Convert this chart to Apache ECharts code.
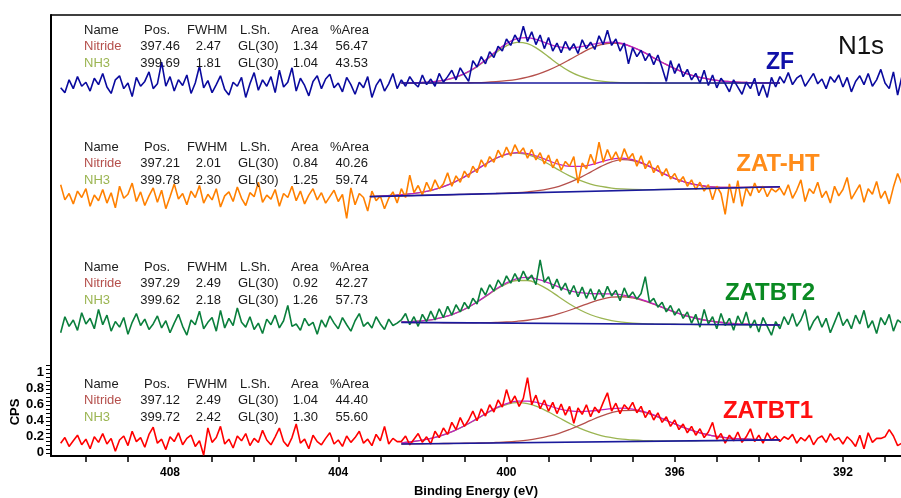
<!DOCTYPE html>
<html><head><meta charset="utf-8">
<script src="https://cdn.jsdelivr.net/npm/echarts@6/dist/echarts.min.js"></script>
<style>html,body{margin:0;padding:0;background:#fff}#c{width:901px;height:498px}</style>
</head><body><div id="c"></div>
<script>
// ---- measured spectra: binding energy grid start/step (eV) ----
const E_START = 410.6, E_STEP = 0.1;

const ZF = [4.56,4.50,4.66,4.55,4.70,4.58,4.63,4.52,4.68,4.60,
4.74,4.57,4.49,4.66,4.71,4.55,4.62,4.45,4.69,4.58,
4.64,4.76,4.55,4.61,4.88,4.58,4.70,4.52,4.66,4.59,
4.72,4.49,4.62,4.83,4.56,4.65,4.50,4.60,4.71,4.54,
4.47,4.63,4.58,4.69,4.44,4.61,4.75,4.53,4.66,4.58,
4.70,4.50,4.78,4.57,4.63,4.81,4.52,4.68,4.59,4.46,
4.64,4.71,4.55,4.67,4.73,4.56,4.62,4.51,4.69,4.60,
4.48,4.63,4.56,4.70,4.44,4.59,4.67,4.52,4.61,4.74,
4.55,
4.66,4.58,4.70,4.62,4.57,4.72,4.60,4.67,4.58,4.74,
4.63,4.70,4.78,4.66,4.81,4.72,4.64,4.90,4.82,4.95,
4.86,5.01,4.94,5.08,5.02,5.17,5.09,5.22,5.13,5.33,
5.14,5.26,5.10,5.22,5.05,5.19,5.02,5.12,5.00,5.14,
5.03,5.11,4.99,5.16,5.05,5.13,5.04,5.21,5.10,5.28,
5.09,5.17,5.02,5.12,4.86,5.06,4.95,5.03,4.90,4.99,
4.85,4.97,4.81,4.64,4.90,4.74,4.86,4.70,4.79,4.66,
4.74,4.62,4.78,4.59,4.72,4.56,4.68,4.61,4.51,4.66,
4.57,4.48,4.63,4.55,4.68,4.46,4.60,4.44,4.69,4.57,
4.70,4.62,4.75,4.60,4.68,4.72,4.58,4.66,4.74,4.61,
4.67,4.55,4.70,4.63,4.72,4.57,4.69,4.51,4.64,4.71,
4.60,4.74,4.58,4.66,4.79,4.62,4.55,4.76,4.47,4.70];

const ZAT_HT = [3.35,3.16,3.24,3.11,3.27,3.19,3.30,3.08,3.22,3.15,
3.29,3.12,3.25,3.06,3.33,3.18,3.23,3.37,3.14,3.26,
3.09,3.21,3.31,3.13,3.28,3.05,3.20,3.36,3.17,3.24,
3.10,3.27,3.19,3.34,3.12,3.23,3.16,3.30,3.07,3.21,
3.26,3.14,3.32,3.18,3.09,3.25,3.20,3.38,3.13,3.22,
3.17,3.29,3.08,3.24,3.19,3.33,3.15,3.27,3.11,3.22,
3.30,3.16,3.25,3.12,3.20,3.28,3.14,3.23,2.93,3.31,
3.10,3.24,3.19,3.02,3.27,3.15,3.21,3.05,3.18,3.26,
3.12,
3.30,3.19,3.47,3.25,3.34,3.22,3.38,3.27,3.41,3.30,
3.36,3.50,3.33,3.46,3.38,3.52,3.44,3.58,3.50,3.66,
3.57,3.70,3.63,3.78,3.69,3.82,3.71,3.85,3.74,3.81,
3.68,3.79,3.66,3.75,3.61,3.72,3.56,3.67,3.53,3.64,
3.58,3.70,3.37,3.62,3.55,3.73,3.60,3.88,3.63,3.79,
3.66,3.76,3.64,3.80,3.67,3.74,3.58,3.71,3.55,3.65,
3.50,3.59,3.46,3.55,3.42,3.49,3.38,3.45,3.33,3.41,
3.29,3.38,3.27,3.35,3.16,3.33,3.24,2.98,3.36,3.12,
3.40,3.08,3.31,3.21,3.37,3.25,3.33,3.20,3.30,3.26,
3.31,3.22,3.35,3.18,3.28,3.41,3.14,3.30,3.24,3.38,
3.19,3.27,3.12,3.33,3.21,3.29,3.44,3.17,3.26,3.35,
3.13,3.30,3.23,3.39,3.18,3.27,3.11,3.32,3.49,3.36];

const ZATBT2 = [1.50,1.70,1.58,1.66,1.53,1.75,1.61,1.68,1.55,1.79,
1.60,1.72,1.52,1.64,1.57,1.69,1.48,1.63,1.74,1.59,
1.67,1.54,1.61,1.71,1.56,1.65,1.50,1.62,1.73,1.58,
1.47,1.66,1.60,1.77,1.55,1.63,1.69,1.52,1.78,1.56,
1.68,1.59,1.81,1.63,1.57,1.70,1.54,1.62,1.49,1.67,
1.60,1.72,1.56,1.65,1.84,1.58,1.61,1.53,1.68,1.59,
1.63,1.48,1.66,1.57,1.71,1.62,1.55,1.69,1.60,1.52,
1.65,1.74,1.58,1.63,1.56,1.70,1.61,1.54,1.67,1.59,
1.62,
1.66,1.74,1.60,1.70,1.58,1.73,1.64,1.77,1.66,1.80,
1.69,1.83,1.72,1.85,1.76,1.88,1.80,1.93,1.86,2.06,
1.97,2.10,2.02,2.16,2.08,2.21,2.12,2.24,2.14,2.27,
2.16,2.22,2.10,2.41,2.13,2.20,2.05,2.17,2.03,2.12,
1.98,2.09,1.95,2.07,1.93,2.05,1.91,2.04,1.94,2.08,
1.96,2.03,1.90,2.06,1.94,2.01,1.92,1.99,2.20,1.88,
1.93,1.82,1.88,1.76,1.84,1.72,1.80,1.68,1.76,1.62,
1.73,1.57,1.79,1.61,1.70,1.55,1.74,1.59,1.68,1.53,
1.71,1.60,1.76,1.56,1.66,1.51,1.69,1.58,1.47,1.64,
1.55,1.70,1.60,1.74,1.58,1.66,1.79,1.53,1.64,1.71,
1.57,1.68,1.50,1.63,1.76,1.59,1.67,1.55,1.72,1.61,
1.78,1.56,1.65,1.49,1.69,1.60,1.73,1.52,1.66,1.62];

const ZATBT1 = [0.12,0.19,0.08,0.15,0.22,0.10,0.17,0.05,0.20,0.13,
0.24,0.11,0.18,0.02,0.16,0.21,0.09,0.27,0.14,0.19,
0.07,0.23,0.32,0.12,0.17,0.04,0.20,0.14,0.25,0.10,
0.18,0.22,0.08,0.15,-0.03,0.31,0.13,0.19,0.33,0.11,
0.17,0.06,0.21,0.15,0.24,0.09,0.18,0.13,0.28,0.16,
0.10,0.20,0.31,0.14,0.08,0.19,0.36,0.12,0.17,0.05,
0.22,0.14,0.10,0.18,0.25,0.11,0.16,0.08,0.21,0.13,
0.19,0.27,0.12,0.17,0.09,0.23,0.15,0.33,0.11,0.18,
0.14,
0.14,0.21,0.10,0.17,0.24,0.13,0.20,0.11,0.27,0.19,
0.31,0.23,0.38,0.29,0.44,0.33,0.41,0.52,0.40,0.55,
0.46,0.60,0.51,0.66,0.57,0.79,0.62,0.71,0.58,0.68,
0.94,0.60,0.72,0.55,0.66,0.52,0.63,0.49,0.61,0.47,
0.58,0.37,0.56,0.48,0.60,0.45,0.57,0.50,0.63,0.75,
0.52,0.62,0.49,0.60,0.54,0.63,0.50,0.58,0.44,0.53,
0.41,0.50,0.38,0.45,0.33,0.41,0.29,0.36,0.25,0.33,
0.22,0.30,0.19,0.26,0.38,0.17,0.24,0.12,0.22,0.15,
0.26,0.13,0.20,0.30,0.14,0.22,0.12,0.25,0.16,0.21,
0.14,0.20,0.17,0.23,0.12,0.19,0.15,0.22,0.10,0.18,
0.21,0.13,0.24,0.16,0.19,0.11,0.20,0.15,0.08,0.22,
0.05,0.25,0.13,0.18,0.18,0.20,0.29,0.21,0.09,0.12];

// ---- fitted curves (energies in eV) ----
const FIT_E = [402.5,402.25,402.0,401.75,401.5,401.25,401.0,400.75,400.5,400.25,400.0,399.75,399.5,399.25,399.0,398.75,398.5,398.25,398.0,397.75,397.5,397.25,397.0,396.75,396.5,396.25,396.0,395.75,395.5,395.25,395.0,394.75,394.5,394.25,394.0,393.75,393.5];
const FIT_E_HT = [403.25,403.0,402.75,402.5,402.25,402.0,401.75,401.5,401.25,401.0,400.75,400.5,400.25,400.0,399.75,399.5,399.25,399.0,398.75,398.5,398.25,398.0,397.75,397.5,397.25,397.0,396.75,396.5,396.25,396.0,395.75,395.5,395.25,395.0,394.75,394.5,394.25,394.0,393.75,393.5];

const ZF_NH3 = [4.621,4.623,4.627,4.637,4.653,4.685,4.735,4.806,4.899,5.000,5.084,5.128,5.113,5.044,4.947,4.849,4.765,4.705,4.666,4.643,4.631,4.625,4.622,4.621,4.62,4.62,4.62,4.62,4.62,4.62,4.62,4.62,4.62,4.62,4.62,4.62,4.62];
const ZF_NIT = [4.620,4.620,4.620,4.621,4.621,4.622,4.623,4.625,4.629,4.637,4.649,4.667,4.694,4.732,4.781,4.842,4.912,4.986,5.052,5.099,5.120,5.109,5.067,5.008,4.935,4.864,4.799,4.745,4.704,4.674,4.653,4.640,4.631,4.626,4.623,4.622,4.621];
const ZF_ENV = [4.621,4.623,4.628,4.638,4.654,4.687,4.738,4.811,4.908,5.017,5.113,5.175,5.187,5.156,5.108,5.071,5.057,5.071,5.098,5.122,5.131,5.114,5.069,5.009,4.935,4.864,4.799,4.745,4.704,4.674,4.653,4.640,4.631,4.626,4.623,4.622,4.621];
const ZF_BG = [4.62, 4.62];

const HT_NH3 = [3.203,3.207,3.215,3.224,3.237,3.256,3.285,3.326,3.379,3.448,3.525,3.606,3.679,3.728,3.745,3.726,3.677,3.608,3.531,3.461,3.404,3.358,3.328,3.308,3.297,3.291,3.289,3.289,3.291,3.294,3.296,3.299,3.302,3.305,3.308,3.311,3.315,3.318,3.321,3.324];
const HT_NIT = [3.201,3.204,3.208,3.211,3.214,3.217,3.220,3.223,3.226,3.230,3.233,3.237,3.240,3.245,3.251,3.261,3.275,3.297,3.330,3.378,3.438,3.507,3.578,3.635,3.662,3.652,3.611,3.550,3.483,3.426,3.382,3.350,3.330,3.320,3.316,3.315,3.317,3.319,3.321,3.324];
const HT_ENV = [3.203,3.207,3.215,3.224,3.237,3.256,3.285,3.326,3.379,3.448,3.525,3.607,3.680,3.731,3.751,3.738,3.700,3.650,3.603,3.578,3.578,3.598,3.635,3.669,3.682,3.663,3.617,3.553,3.485,3.427,3.382,3.350,3.330,3.320,3.316,3.315,3.317,3.319,3.321,3.324];
const HT_BG = [3.201, 3.324];

const BT2_NH3 = [1.635,1.640,1.649,1.665,1.694,1.735,1.792,1.866,1.951,2.038,2.109,2.153,2.153,2.108,2.036,1.947,1.860,1.784,1.725,1.682,1.652,1.633,1.621,1.614,1.610,1.608,1.606,1.604,1.603,1.602,1.601,1.600,1.600,1.599,1.598,1.597,1.596];
const BT2_NIT = [1.629,1.628,1.627,1.626,1.625,1.625,1.625,1.625,1.626,1.629,1.634,1.643,1.656,1.676,1.703,1.739,1.781,1.829,1.876,1.917,1.944,1.950,1.935,1.902,1.857,1.806,1.758,1.715,1.681,1.654,1.634,1.620,1.612,1.606,1.602,1.599,1.597];
const BT2_ENV = [1.635,1.640,1.649,1.665,1.694,1.736,1.793,1.868,1.955,2.046,2.123,2.177,2.191,2.167,2.123,2.071,2.027,2.000,1.989,1.987,1.985,1.973,1.947,1.908,1.860,1.808,1.759,1.715,1.681,1.654,1.634,1.620,1.612,1.606,1.602,1.599,1.597];
const BT2_BG = [1.629, 1.596];

const BT1_NH3 = [0.125,0.138,0.157,0.185,0.224,0.274,0.337,0.409,0.485,0.556,0.603,0.626,0.614,0.573,0.510,0.438,0.367,0.304,0.254,0.215,0.189,0.170,0.160,0.153,0.150,0.149,0.149,0.150,0.150,0.152,0.153,0.155,0.156,0.158,0.159,0.161,0.162];
const BT1_NIT = [0.110,0.111,0.113,0.114,0.116,0.117,0.120,0.122,0.124,0.129,0.135,0.145,0.159,0.180,0.208,0.244,0.291,0.345,0.404,0.458,0.502,0.527,0.529,0.507,0.468,0.415,0.361,0.309,0.264,0.231,0.205,0.187,0.176,0.169,0.165,0.164,0.164];
const BT1_ENV = [0.125,0.138,0.157,0.185,0.224,0.274,0.338,0.411,0.488,0.562,0.614,0.645,0.646,0.624,0.588,0.550,0.525,0.515,0.522,0.536,0.552,0.557,0.547,0.517,0.473,0.418,0.362,0.310,0.264,0.231,0.205,0.187,0.176,0.169,0.165,0.164,0.164];
const BT1_BG = [0.110, 0.162];

const BG_E = [402.5, 393.5];
const BG_E_HT = [403.25, 393.5];

// ---- axis ticks / labels ----
const X_TICKS = [391,392,393,394,395,396,397,398,399,400,401,402,403,404,405,406,407,408,409,410];
const X_LABELS = [392,396,400,404,408];
const Y_TICKS = [0,0.05,0.1,0.15,0.2,0.25,0.3,0.35,0.4,0.45,0.5,0.55,0.6,0.65,0.7,0.75,0.8,0.85,0.9,0.95,1,1.05,1.1];
const Y_LABELS = [0,0.2,0.4,0.6,0.8,1];

// ---- peak table text ----
const TABLE_HEAD = ['Name','Pos.','FWHM','L.Sh.','Area','%Area'];
const COMP_NAMES = ['Nitride','NH3'];
const TABLE_ZF = [['397.46','2.47','GL(30)','1.34','56.47'],['399.69','1.81','GL(30)','1.04','43.53']];
const TABLE_HT = [['397.21','2.01','GL(30)','0.84','40.26'],['399.78','2.30','GL(30)','1.25','59.74']];
const TABLE_BT2 = [['397.29','2.49','GL(30)','0.92','42.27'],['399.62','2.18','GL(30)','1.26','57.73']];
const TABLE_BT1 = [['397.12','2.49','GL(30)','1.04','44.40'],['399.72','2.42','GL(30)','1.30','55.60']];
const SAMPLE_NAMES = ['ZF','ZAT-HT','ZATBT2','ZATBT1'];

// ---- build ----
const ENERGY = ZF.map((_, i) => +(E_START - i * E_STEP).toFixed(2));
const pair = (xs, ys) => xs.map((x, i) => [x, ys[i]]);
const FONT = '"Liberation Sans", Arial, sans-serif';
const C_NIT = '#b5504c', C_NH3 = '#9bb552', C_ENV = '#c020c0', C_BG = '#1a1a9c';

function ln(name, xs, ys, color, width, z, smooth) {
  return {name, type: 'line', data: pair(xs, ys), symbol: 'none', showSymbol: false,
    lineStyle: {color, width}, itemStyle: {color}, z, silent: true, smooth: smooth || false,
    animation: false};
}
const samples = [
  {raw: ZF, col: '#0a0a9e', fe: FIT_E, nh3: ZF_NH3, nit: ZF_NIT, env: ZF_ENV, bge: BG_E, bg: ZF_BG},
  {raw: ZAT_HT, col: '#ff8000', fe: FIT_E_HT, nh3: HT_NH3, nit: HT_NIT, env: HT_ENV, bge: BG_E_HT, bg: HT_BG},
  {raw: ZATBT2, col: '#0a7f3c', fe: FIT_E, nh3: BT2_NH3, nit: BT2_NIT, env: BT2_ENV, bge: BG_E, bg: BT2_BG},
  {raw: ZATBT1, col: '#ff0000', fe: FIT_E, nh3: BT1_NH3, nit: BT1_NIT, env: BT1_ENV, bge: BG_E, bg: BT1_BG}
];
const series = [];
samples.forEach((s, k) => {
  series.push(ln(SAMPLE_NAMES[k] + ' NH3', s.fe, s.nh3, C_NH3, 1.3, 2, 0.4));
  series.push(ln(SAMPLE_NAMES[k] + ' Nitride', s.fe, s.nit, C_NIT, 1.3, 2, 0.4));
  series.push(ln(SAMPLE_NAMES[k] + ' envelope', s.fe, s.env, C_ENV, 1.3, 2, 0.4));
  series.push(ln(SAMPLE_NAMES[k], ENERGY, s.raw, s.col, 1.6, 3));
  series.push(ln(SAMPLE_NAMES[k] + ' background', s.bge, s.bg, C_BG, 1.6, 4));
});

// table graphics
const graphics = [];
const tables = [TABLE_ZF, TABLE_HT, TABLE_BT2, TABLE_BT1];
const tableY = [30, 147, 267, 384];
const headX = [84, 144, 187, 240, 291, 330];
function txt(text, x, y, font, fill, align) {
  return {type: 'text', x, y, silent: true, z: 10,
    style: {text, font, fill, align: align || 'left', verticalAlign: 'middle'}};
}
const TF = '13px ' + FONT;
tables.forEach((t, k) => {
  const y0 = tableY[k];
  TABLE_HEAD.forEach((h, j) => graphics.push(txt(h, headX[j], y0, TF, '#1a1a1a')));
  t.forEach((row, r) => {
    const y = y0 + 16.5 * (r + 1);
    graphics.push(txt(COMP_NAMES[r], 84, y, TF, r === 0 ? C_NIT : C_NH3));
    graphics.push(txt(row[0], 180, y, TF, '#1a1a1a', 'right'));
    graphics.push(txt(row[1], 221, y, TF, '#1a1a1a', 'right'));
    graphics.push(txt(row[2], 238, y, TF, '#1a1a1a', 'left'));
    graphics.push(txt(row[3], 318, y, TF, '#1a1a1a', 'right'));
    graphics.push(txt(row[4], 368, y, TF, '#1a1a1a', 'right'));
  });
});
graphics.push(txt('N1s', 861, 47, '26px ' + FONT, '#111', 'center'));
graphics.push(txt(SAMPLE_NAMES[0], 780, 63, 'bold 23px ' + FONT, '#1010a8', 'center'));
graphics.push(txt(SAMPLE_NAMES[1], 778, 164, 'bold 24px ' + FONT, '#ff8c1a', 'center'));
graphics.push(txt(SAMPLE_NAMES[2], 770, 293, 'bold 24px ' + FONT, '#0a8a22', 'center'));
graphics.push(txt(SAMPLE_NAMES[3], 768, 411, 'bold 24px ' + FONT, '#ff1010', 'center'));
graphics.push({type: 'text', x: 15, y: 412, rotation: Math.PI / 2, silent: true,
  style: {text: 'CPS', font: 'bold 13px ' + FONT, fill: '#000', align: 'center', verticalAlign: 'middle'}});

const X_MIN = 390.62, X_MAX = 410.83;
const chart = echarts.init(document.getElementById('c'), null, {renderer: 'canvas'});
chart.setOption({
  animation: false,
  backgroundColor: '#fff',
  grid: {left: 51, right: 0, top: 15, bottom: 42, containLabel: false, outerBoundsMode: 'none'},
  xAxis: [{
    type: 'value', inverse: true, min: X_MIN, max: X_MAX, position: 'bottom',
    axisLine: {onZero: false, lineStyle: {color: '#000', width: 2}},
    axisTick: {show: true, customValues: X_TICKS, length: 6, lineStyle: {color: '#000', width: 1.5}},
    axisLabel: {customValues: X_LABELS, fontWeight: 'bold', fontSize: 12, color: '#000', margin: 11, fontFamily: FONT},
    splitLine: {show: false},
    name: 'Binding Energy (eV)', nameLocation: 'middle', nameGap: 29,
    nameTextStyle: {fontWeight: 'bold', fontSize: 13, color: '#000', fontFamily: FONT}
  }, {
    type: 'value', inverse: true, min: X_MIN, max: X_MAX, position: 'top',
    axisLine: {onZero: false, lineStyle: {color: '#000', width: 1.5}},
    axisTick: {show: false}, axisLabel: {show: false}, splitLine: {show: false}
  }],
  yAxis: {
    type: 'value', min: -0.04, max: 5.47,
    axisLine: {show: true, onZero: false, lineStyle: {color: '#000', width: 2}},
    axisTick: {show: true, customValues: Y_TICKS, length: 5, lineStyle: {color: '#000', width: 1}},
    axisLabel: {customValues: Y_LABELS, fontWeight: 'bold', fontSize: 13, color: '#000', margin: 7, fontFamily: FONT,
      formatter: v => String(Math.round(v * 10) / 10)},
    splitLine: {show: false}
  },
  series,
  graphic: {elements: graphics}
});
</script></body></html>
